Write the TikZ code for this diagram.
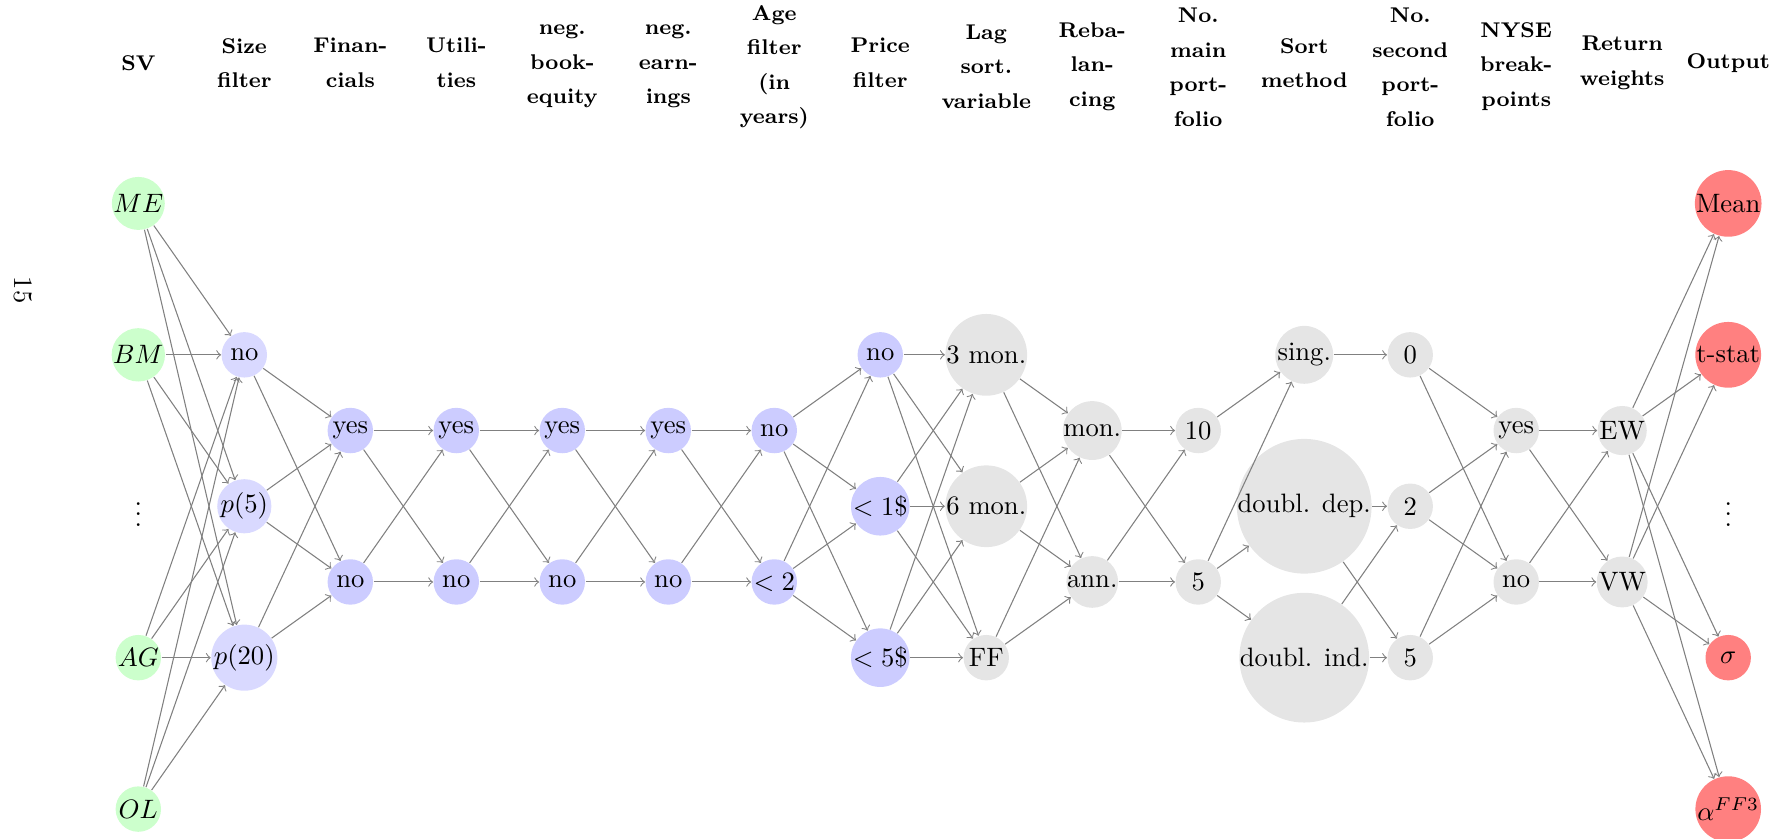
\documentclass[tikz,border=0pt]{standalone}
\usepackage{amsmath,amssymb}
\usepackage{xcolor}
\usepackage{tikz}

\begin{document}
\begin{tikzpicture}[x=1.4cm,y=1cm,
  nd/.style={circle,inner sep=0pt,minimum size=0.6cm},
  sv/.style={nd,fill=green!20},
  sz/.style={nd,fill=blue!15},
  flt/.style={nd,fill=blue!20},
  prt/.style={nd,fill=black!10},
  res/.style={nd,fill=red!50},
  hdr/.style={font=\fontsize{8}{13}\selectfont\bfseries,align=center},
  link/.style={->,gray}]
  \useasboundingbox (-1.305,2.687) rectangle (15.602,-8.383);
  \node[rotate=-90] (PG) at (-1.09,-1.144) {15};
  % column heads
  \node[hdr] (H0) at (0,1.855) {SV};
  \node[hdr] (H1) at (1,1.855) {Size\\filter};
  \node[hdr] (H2) at (2,1.855) {Finan-\\cials};
  \node[hdr] (H3) at (3,1.855) {Utili-\\ties};
  \node[hdr] (H4) at (4,1.81) {neg.\\book-\\equity};
  \node[hdr] (H5) at (5,1.81) {neg.\\earn-\\ings};
  \node[hdr] (H6) at (6,1.80) {Age\\filter\\(in\\years)};
  \node[hdr] (H7) at (7,1.855) {Price\\filter};
  \node[hdr] (H8) at (8,1.81) {Lag\\sort.\\variable};
  \node[hdr] (H9) at (9,1.81) {Reba-\\lan-\\cing};
  \node[hdr] (H10) at (10,1.80) {No.\\main\\port-\\folio};
  \node[hdr] (H11) at (11,1.855) {Sort\\method};
  \node[hdr] (H12) at (12,1.80) {No.\\second\\port-\\folio};
  \node[hdr] (H13) at (13,1.81) {NYSE\\break-\\points};
  \node[hdr] (H14) at (14,1.855) {Return\\weights};
  \node[hdr] (H15) at (15,1.855) {Output};
  % sorting variables
  \node[sv] (SV1) at (0,0) {$ME$};
  \node[sv] (SV2) at (0,-2) {$BM$};
  \node (SVd) at (0,-4) {$\vdots$};
  \node[sv] (SV3) at (0,-6) {$AG$};
  \node[sv] (SV4) at (0,-8) {$OL$};
  % filters
  \node[sz] (SZ1) at (1,-2) {no};
  \node[sz] (SZ2) at (1,-4) {$p(5)$};
  \node[sz] (SZ3) at (1,-6) {$p(20)$};
  \node[flt] (FI1) at (2,-3) {yes};
  \node[flt] (FI2) at (2,-5) {no};
  \node[flt] (UT1) at (3,-3) {yes};
  \node[flt] (UT2) at (3,-5) {no};
  \node[flt] (BE1) at (4,-3) {yes};
  \node[flt] (BE2) at (4,-5) {no};
  \node[flt] (EA1) at (5,-3) {yes};
  \node[flt] (EA2) at (5,-5) {no};
  \node[flt] (AF1) at (6,-3) {no};
  \node[flt] (AF2) at (6,-5) {$<2$};
  \node[flt] (PF1) at (7,-2) {no};
  \node[flt] (PF2) at (7,-4) {$<1$\$};
  \node[flt] (PF3) at (7,-6) {$<5$\$};
  % portfolio construction
  \node[prt] (LS1) at (8,-2) {3 mon.};
  \node[prt] (LS2) at (8,-4) {6 mon.};
  \node[prt] (LS3) at (8,-6) {FF};
  \node[prt] (RB1) at (9,-3) {mon.};
  \node[prt] (RB2) at (9,-5) {ann.};
  \node[prt] (NM1) at (10,-3) {10};
  \node[prt] (NM2) at (10,-5) {5};
  \node[prt] (SM1) at (11,-2) {sing.};
  \node[prt] (SM2) at (11,-4) {doubl. dep.};
  \node[prt] (SM3) at (11,-6) {doubl. ind.};
  \node[prt] (NS1) at (12,-2) {0};
  \node[prt] (NS2) at (12,-4) {2};
  \node[prt] (NS3) at (12,-6) {5};
  \node[prt] (NY1) at (13,-3) {yes};
  \node[prt] (NY2) at (13,-5) {no};
  \node[prt] (RW1) at (14,-3) {EW};
  \node[prt] (RW2) at (14,-5) {VW};
  % outputs
  \node[res] (OU1) at (15,0) {Mean};
  \node[res] (OU2) at (15,-2) {t-stat};
  \node (OUd) at (15,-4) {$\vdots$};
  \node[res] (OU3) at (15,-6) {$\sigma$};
  \node[res] (OU4) at (15,-8) {$\alpha^{FF3}$};
  % paths
  \draw[link] (SV1) edge (SZ1) edge (SZ2) edge (SZ3);
  \draw[link] (SV2) edge (SZ1) edge (SZ2) edge (SZ3);
  \draw[link] (SV3) edge (SZ1) edge (SZ2) edge (SZ3);
  \draw[link] (SV4) edge (SZ1) edge (SZ2) edge (SZ3);
  \draw[link] (SZ1) edge (FI1) edge (FI2);
  \draw[link] (SZ2) edge (FI1) edge (FI2);
  \draw[link] (SZ3) edge (FI1) edge (FI2);
  \draw[link] (FI1) edge (UT1) edge (UT2);
  \draw[link] (FI2) edge (UT1) edge (UT2);
  \draw[link] (UT1) edge (BE1) edge (BE2);
  \draw[link] (UT2) edge (BE1) edge (BE2);
  \draw[link] (BE1) edge (EA1) edge (EA2);
  \draw[link] (BE2) edge (EA1) edge (EA2);
  \draw[link] (EA1) edge (AF1) edge (AF2);
  \draw[link] (EA2) edge (AF1) edge (AF2);
  \draw[link] (AF1) edge (PF1) edge (PF2) edge (PF3);
  \draw[link] (AF2) edge (PF1) edge (PF2) edge (PF3);
  \draw[link] (PF1) edge (LS1) edge (LS2) edge (LS3);
  \draw[link] (PF2) edge (LS1) edge (LS2) edge (LS3);
  \draw[link] (PF3) edge (LS1) edge (LS2) edge (LS3);
  \draw[link] (LS1) edge (RB1) edge (RB2);
  \draw[link] (LS2) edge (RB1) edge (RB2);
  \draw[link] (LS3) edge (RB1) edge (RB2);
  \draw[link] (RB1) edge (NM1) edge (NM2);
  \draw[link] (RB2) edge (NM1) edge (NM2);
  \draw[link] (NM1) edge (SM1);
  \draw[link] (NM2) edge (SM1) edge (SM2) edge (SM3);
  \draw[link] (SM1) edge (NS1);
  \draw[link] (SM2) edge (NS2) edge (NS3);
  \draw[link] (SM3) edge (NS2) edge (NS3);
  \draw[link] (NS1) edge (NY1) edge (NY2);
  \draw[link] (NS2) edge (NY1) edge (NY2);
  \draw[link] (NS3) edge (NY1) edge (NY2);
  \draw[link] (NY1) edge (RW1) edge (RW2);
  \draw[link] (NY2) edge (RW1) edge (RW2);
  \draw[link] (RW1) edge (OU1) edge (OU2) edge (OU3) edge (OU4);
  \draw[link] (RW2) edge (OU1) edge (OU2) edge (OU3) edge (OU4);
\end{tikzpicture}
\end{document}
